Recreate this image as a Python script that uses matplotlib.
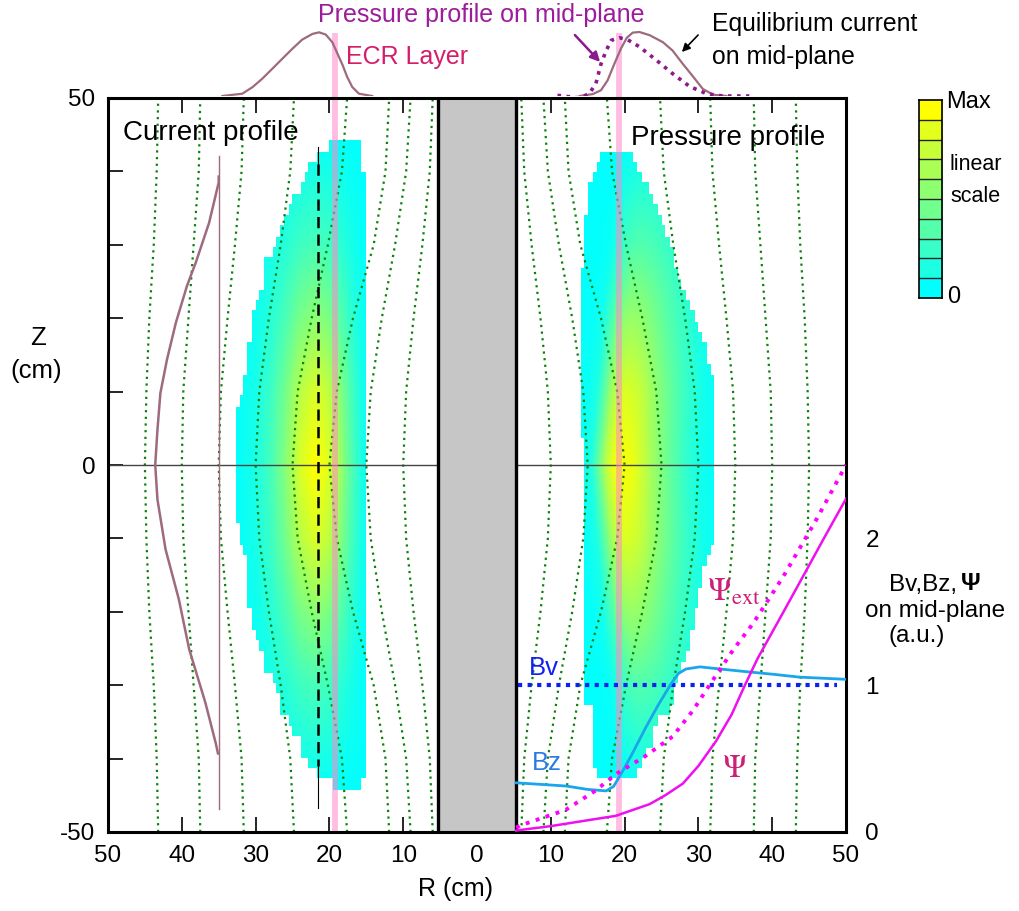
import numpy as np
import matplotlib
matplotlib.use('Agg')
import matplotlib.pyplot as plt
from matplotlib.colors import ListedColormap

plt.rcParams['font.family'] = ['Liberation Sans', 'DejaVu Sans']
plt.rcParams['mathtext.fontset'] = 'stix'

# ---------------- data ----------------
# current profile (left panel): boundary of the coloured region
Z_cur = [-43.6, -43.1, -42.0, -40.6, -39.3, -37.4, -35.6, -32.4, -29.7, -27.4, -22.7, -20.2, -12.7, -8.8, -6.75,
         0.0, 6.75, 8.7, 10.3, 12.6, 21.0, 22.6, 27.4, 29.6, 32.1, 33.5, 36.0, 38.5, 41.2, 43.0, 43.6]
Rout_cur = [19.6, 20.5, 21.6, 22.8, 23.6, 24.3, 25.5, 26.8, 27.4, 28.8, 30.0, 30.7, 31.3, 32.3, 32.8,
            32.8, 32.8, 32.3, 31.8, 31.3, 30.4, 29.3, 28.7, 27.5, 26.8, 26.1, 24.9, 23.6, 22.3, 21.0, 19.8]
Rin_cur = [15.7, 15.7, 15.3, 15.3, 15.3, 15.3, 15.3, 15.3, 15.3, 15.3, 15.3, 15.3, 15.3, 15.3, 15.3,
           15.3, 15.3, 15.3, 15.3, 15.3, 15.3, 15.3, 15.3, 15.3, 15.3, 15.3, 15.3, 15.3, 15.7, 15.7, 15.7]
# radial shape and axial amplitude of the current
Rsh_cur = [15.3, 17.0, 19.0, 20.5, 22.0, 24.0, 26.0, 28.0, 30.0, 33.0]
Vsh_cur = [0.06, 0.32, 0.72, 0.92, 1.00, 0.85, 0.52, 0.27, 0.10, 0.0]
Zam_cur = [0, 10, 20, 30, 40, 44]
Vam_cur = [1.0, 0.85, 0.55, 0.28, 0.10, 0.03]

# pressure profile (right panel)
Z_prs = [-42.5, -42.2, -40.0, -37.9, -35.0, -32.9, -30.0, -27.0, -25.2, -21.1, -17.0, -8.8,
         0.0, 10.3, 17.1, 21.0, 22.6, 27.6, 30.1, 33.5, 36.0, 37.6, 39.2, 41.6, 42.5]
Rout_prs = [20.4, 21.5, 22.6, 23.6, 24.5, 26.3, 26.9, 27.7, 28.5, 29.5, 30.1, 32.3,
            32.3, 32.3, 30.5, 28.9, 28.3, 26.9, 26.4, 25.2, 24.2, 23.6, 22.4, 21.6, 20.5]
Zin_prs = [-42.5, -41.5, -33.0, -32.0, 0.0, 7.1, 26.2, 32.6, 38.3, 41.6, 42.5]
Rin_prs = [16.6, 15.5, 15.5, 14.7, 14.6, 14.1, 14.2, 14.7, 15.2, 16.4, 17.5]
Rsh_prs = [14.2, 15.5, 16.5, 17.5, 18.6, 19.5, 21.0, 22.5, 24.2, 26.0, 28.0, 30.0, 32.3]
Vsh_prs = [0.04, 0.13, 0.42, 0.75, 0.95, 1.00, 0.93, 0.78, 0.58, 0.40, 0.22, 0.08, 0.01]
Zam_prs = [0, 10, 20, 30, 40, 43]
Vam_prs = [1.0, 0.86, 0.6, 0.32, 0.11, 0.04]
Zsh_prs = [0, 20, 30, 40]
Dsh_prs = [0.0, 1.5, 2.5, 3.0]

# field lines: R at Z = 0, 10, 20, 30, 40, 50 (mirror symmetric)
FL_Z = [0, 10, 20, 30, 40, 50]
FL_R = [
    [10.0, 9.6, 8.6, 7.4, 6.4, 6.0],
    [15.0, 14.4, 12.9, 11.1, 9.6, 9.0],
    [20.0, 19.0, 16.8, 14.0, 12.4, 11.9],
    [25.0, 24.3, 22.4, 20.2, 18.3, 17.6],
    [30.0, 29.5, 28.2, 26.6, 25.3, 24.8],
    [35.0, 34.7, 33.8, 32.8, 31.9, 31.6],
    [40.0, 39.8, 39.1, 38.4, 37.7, 37.5],
    [45.0, 44.8, 44.4, 43.8, 43.4, 43.2],
]

# axial current curve drawn in the left panel (R vs Z)
Z_cj = [39.3, 38.5, 33.0, 27.6, 24.4, 19.4, 14.4, 9.8, 4.8, 0.0, -4.7, -11.5, -18.3, -25.1, -32.4, -37.9, -39.3]
R_cj = [35.0, 35.0, 36.3, 38.1, 39.3, 40.8, 42.0, 42.9, 43.3, 43.6, 43.3, 42.2, 40.4, 39.0, 36.8, 35.4, 35.1]

# mid-plane profiles above the frame (normalised heights)
R_top_cur_l = [34.5, 31.8, 30.4, 29.1, 27.7, 26.4, 25.0, 23.7, 22.3, 21.4, 20.5, 19.6, 18.9, 18.2, 17.6, 16.9, 16.0, 14.2]
H_top_cur_l = [0.0, 0.036, 0.14, 0.27, 0.43, 0.58, 0.74, 0.88, 0.97, 0.995, 0.96, 0.84, 0.66, 0.48, 0.30, 0.14, 0.036, 0.0]
R_top_cur_r = [13.9, 15.7, 16.8, 17.7, 18.6, 19.5, 20.3, 21.1, 22.0, 23.4, 25.2, 26.5, 27.9, 29.3, 30.6, 32.0, 33.8]
H_top_cur_r = [0.0, 0.03, 0.09, 0.245, 0.5, 0.74, 0.91, 0.99, 1.0, 0.95, 0.84, 0.71, 0.5, 0.3, 0.11, 0.02, 0.0]
R_top_prs = [10.9, 13.9, 15.2, 16.1, 16.8, 17.5, 18.2, 19.3, 20.4, 22.0, 24.3, 26.5, 28.8, 31.1, 33.3, 36.9]
H_top_prs = [0.01, -0.03, 0.036, 0.19, 0.5, 0.71, 0.87, 0.91, 0.88, 0.77, 0.56, 0.35, 0.15, 0.036, 0.0, 0.0]

# mid-plane fields (a.u.) vs R in the right panel
R_bz = [5.3, 10, 12.1, 15, 17.5, 18.5, 19.8, 21, 22.9, 24.5, 26.3, 27.3, 28.3, 30.2, 33, 36.9, 40, 43.7, 50]
V_bz = [0.335, 0.32, 0.313, 0.29, 0.28, 0.31, 0.42, 0.53, 0.715, 0.86, 1.01, 1.08, 1.11, 1.125, 1.11, 1.09, 1.075, 1.055, 1.04]
R_bv = [5.6, 48.8]
V_bv = [1.0, 1.0]
R_pext = [5.3, 5.9, 12.0, 16.0, 19.0, 22.6, 26.5, 29.3, 31.1, 34.7, 37.4, 41.5, 46.0, 50.0]
V_pext = [0.03, 0.045, 0.15, 0.28, 0.40, 0.51, 0.65, 0.83, 0.97, 1.24, 1.42, 1.74, 2.13, 2.50]
R_psi = [5.3, 10, 15, 18.8, 23.4, 25.5, 27.9, 30, 32.4, 34.5, 36.3, 38, 40.1, 42.3, 44.6, 47, 50]
V_psi = [0.01, 0.04, 0.08, 0.11, 0.19, 0.25, 0.33, 0.45, 0.62, 0.80, 1.0, 1.18, 1.37, 1.57, 1.78, 2.0, 2.27]

R_ecr = 19.2
R_wall = 5.3

# ---------------- figure ----------------
W, H = 1020, 911
fig = plt.figure(figsize=(W / 100, H / 100), dpi=100)


def fx(px):
    return px / W


def fy(py):
    return 1 - py / H


L, R, T, B = 108, 846, 98, 832
ax = fig.add_axes([fx(L), fy(B), (R - L) / W, (B - T) / H])
ax.set_xlim(-50, 50)
ax.set_ylim(-50, 50)

cmap = ListedColormap([(t, 1.0, 1.0 - t) for t in np.linspace(0, 1, 256)])

rr = np.arange(0.0, 50.01, 0.2)
zz = np.arange(-50.0, 50.01, 0.2)
RR, ZZ = np.meshgrid(rr, zz)


def field(zb, rout, zin, rin, rsh, vsh, zam, vam, zsh=None, dsh=None):
    zq = np.round(ZZ / 1.45) * 1.45
    rq = np.round(RR / 0.55) * 0.55
    hi = np.interp(zq, zb, rout)
    lo = np.interp(zq, zin, rin)
    inside = (rq >= lo) & (rq <= hi) & (zq >= zb[0]) & (zq <= zb[-1])
    shift = 0 if zsh is None else np.interp(np.abs(ZZ), zsh, dsh)
    val = np.interp(RR - shift, rsh, vsh) * np.interp(np.abs(ZZ), zam, vam)
    return np.ma.masked_where(~inside, val)


cur = field(Z_cur, Rout_cur, Z_cur, Rin_cur, Rsh_cur, Vsh_cur, Zam_cur, Vam_cur)
prs = field(Z_prs, Rout_prs, Zin_prs, Rin_prs, Rsh_prs, Vsh_prs, Zam_prs, Vam_prs, Zsh_prs, Dsh_prs)
ax.pcolormesh(-RR, ZZ, cur, cmap=cmap, vmin=0, vmax=1, shading='nearest', zorder=1, rasterized=True)
ax.pcolormesh(RR, ZZ, prs, cmap=cmap, vmin=0, vmax=1, shading='nearest', zorder=1, rasterized=True)

# field lines
zline = np.array([-z for z in FL_Z[::-1]] + FL_Z[1:])
for rl in FL_R:
    rline = np.array(rl[::-1] + rl[1:])
    for sgn in (-1, 1):
        ax.plot(sgn * rline, zline, color='#0a820a', lw=1.6, ls=(0, (1, 2.0)), zorder=2)

# mid-plane line
ax.plot([-50, 50], [0, 0], color='#444444', lw=1.0, zorder=2)

# ECR layer (extends above the frame)
for sgn in (-1, 1):
    ax.plot([sgn * R_ecr, sgn * R_ecr], [-50, 58.9], color='#ff88cc', alpha=0.55, lw=4.2,
            solid_capstyle='butt', zorder=6, clip_on=False)

# axial current curve and its base line
ax.plot([-35.0, -35.0], [42.1, -46.9], color='#9e6a7f', lw=1.0, zorder=3)
ax.plot([-r for r in R_cj], Z_cj, color='#9e6a7f', lw=1.8, zorder=3)

# dashed line through the current peak
ax.plot([-21.5, -21.5], [43.3, 41.0], color='black', lw=0.8, zorder=3)
ax.plot([-21.5, -21.5], [-41.0, -46.7], color='black', lw=0.8, zorder=3)
ax.plot([-21.5, -21.5], [41.0, -41.0], color='black', lw=1.8, ls=(0, (4.5, 2.5)), zorder=3)

# centre column
ax.axvspan(-R_wall, R_wall, color='#c6c6c6', zorder=4)
ax.axvline(-R_wall, color='black', lw=2.4, zorder=5)
ax.axvline(R_wall, color='black', lw=2.4, zorder=5)

xt = np.arange(-50, 51, 10)
ax.set_xticks(xt)
ax.set_xticklabels([str(abs(v)) for v in xt])
ax.set_yticks(xt)
ax.set_yticklabels(['-50', '', '', '', '', '0', '', '', '', '', '50'])
ax.tick_params(direction='in', length=11, width=1.2, top=True, right=True, labelsize=17.5, pad=9,
               zorder=7)
for s in ax.spines.values():
    s.set_linewidth(2.2)
    s.set_zorder(8)

ax.text(-47.9, 45.2, 'Current profile', fontsize=20, ha='left', va='center', zorder=7)
ax.text(20.9, 44.6, 'Pressure profile', fontsize=20, ha='left', va='center', zorder=7)

# secondary scale for the mid-plane fields
ax2 = ax.twinx()
ax2.set_ylim(0, 5)
ax2.set_yticks([0, 1, 2])
ax2.tick_params(length=0, labelsize=17.5, pad=14)
for s in ax2.spines.values():
    s.set_visible(False)
ax2.plot(R_bv, V_bv, color='#0a22ee', lw=3.0, ls=(0, (1, 1.3)))
ax2.plot(R_bz, V_bz, color='#1aa6ea', lw=2.0)
ax2.plot(R_pext, V_pext, color='#ff00ff', lw=2.8, ls=(0, (1, 1.7)))
ax2.plot(R_psi, V_psi, color='#ee10ee', lw=1.8)
ax2.text(9.0, 1.115, 'Bv', color='#1020f0', fontsize=18.5, ha='center', va='center')
ax2.text(9.5, 0.47, 'Bz', color='#2a7ae6', fontsize=18.5, ha='center', va='center')
ax2.text(31.2, 1.63, r'$\Psi_{\rm ext}$', color='#cc1f77', fontsize=23, ha='left', va='center')
ax2.text(33.2, 0.43, r'$\Psi$', color='#cc1f77', fontsize=23, ha='left', va='center')

# mid-plane profiles above the frame
axt = fig.add_axes([fx(L), fy(T - 2), (R - L) / W, 80 / H])
axt.set_xlim(-50, 50)
axt.set_ylim(0, 80 / 64)
axt.axis('off')
axt.plot([-r for r in R_top_cur_l], H_top_cur_l, color='#9e6a7f', lw=1.6)
axt.plot(R_top_cur_r, H_top_cur_r, color='#9e6a7f', lw=1.6)
axt.plot(R_top_prs, H_top_prs, color='#8b1a8b', lw=2.6, ls=(0, (1, 1.5)))

fig.text(fx(456), fy(889), 'R (cm)', fontsize=18, ha='center', va='center')
fig.text(fx(38), fy(338), 'Z', fontsize=18.5, ha='center', va='center')
fig.text(fx(36), fy(371), '(cm)', fontsize=18.5, ha='center', va='center')

fig.text(fx(318), fy(15), 'Pressure profile on mid-plane', color='#9c1c9c', fontsize=18,
         ha='left', va='center')
fig.text(fx(346), fy(57), 'ECR Layer', color='#d41e6a', fontsize=18, ha='left', va='center')
fig.text(fx(712), fy(24), 'Equilibrium current', fontsize=17.8, ha='left', va='center')
fig.text(fx(712), fy(57), 'on mid-plane', fontsize=17.8, ha='left', va='center')
fig.text(fx(889), fy(585), 'Bv,Bz,', fontsize=17.5, ha='left', va='center')
fig.text(fx(961), fy(583), 'Ψ', fontsize=17.5, fontweight='bold', ha='left', va='center')
fig.text(fx(935), fy(611), 'on mid-plane', fontsize=17.5, ha='center', va='center')
fig.text(fx(917), fy(636), '(a.u.)', fontsize=17.5, ha='center', va='center')

fig.add_artist(plt.Annotation('', xy=(fx(602), fy(64)), xytext=(fx(573), fy(33)),
                              xycoords='figure fraction',
                              arrowprops=dict(arrowstyle='-|>', color='#8b1a8b', lw=1.8,
                                              mutation_scale=14)))
fig.add_artist(plt.Annotation('', xy=(fx(680), fy(54)), xytext=(fx(700), fy(33)),
                              xycoords='figure fraction',
                              arrowprops=dict(arrowstyle='-|>', color='black', lw=1.2,
                                              mutation_scale=12)))

# colour bar with ten steps
axc = fig.add_axes([fx(919), fy(298), 23 / W, 198 / H])
steps = np.linspace(0, 1, 10).reshape(-1, 1)
axc.imshow(steps, cmap=cmap, vmin=0, vmax=1, origin='lower', aspect='auto', extent=[0, 1, 0, 10])
for k in range(1, 10):
    axc.axhline(k, color='#222222', lw=1.0)
axc.set_xticks([])
axc.set_yticks([])
for s in axc.spines.values():
    s.set_linewidth(1.2)
fig.text(fx(946), fy(102), 'Max', fontsize=17, ha='left', va='center')
fig.text(fx(950), fy(164), 'linear', fontsize=15.5, ha='left', va='center')
fig.text(fx(950), fy(197), 'scale', fontsize=15.5, ha='left', va='center')
fig.text(fx(947), fy(297), '0', fontsize=17, ha='left', va='center')

fig.savefig('out.png', dpi=100)
